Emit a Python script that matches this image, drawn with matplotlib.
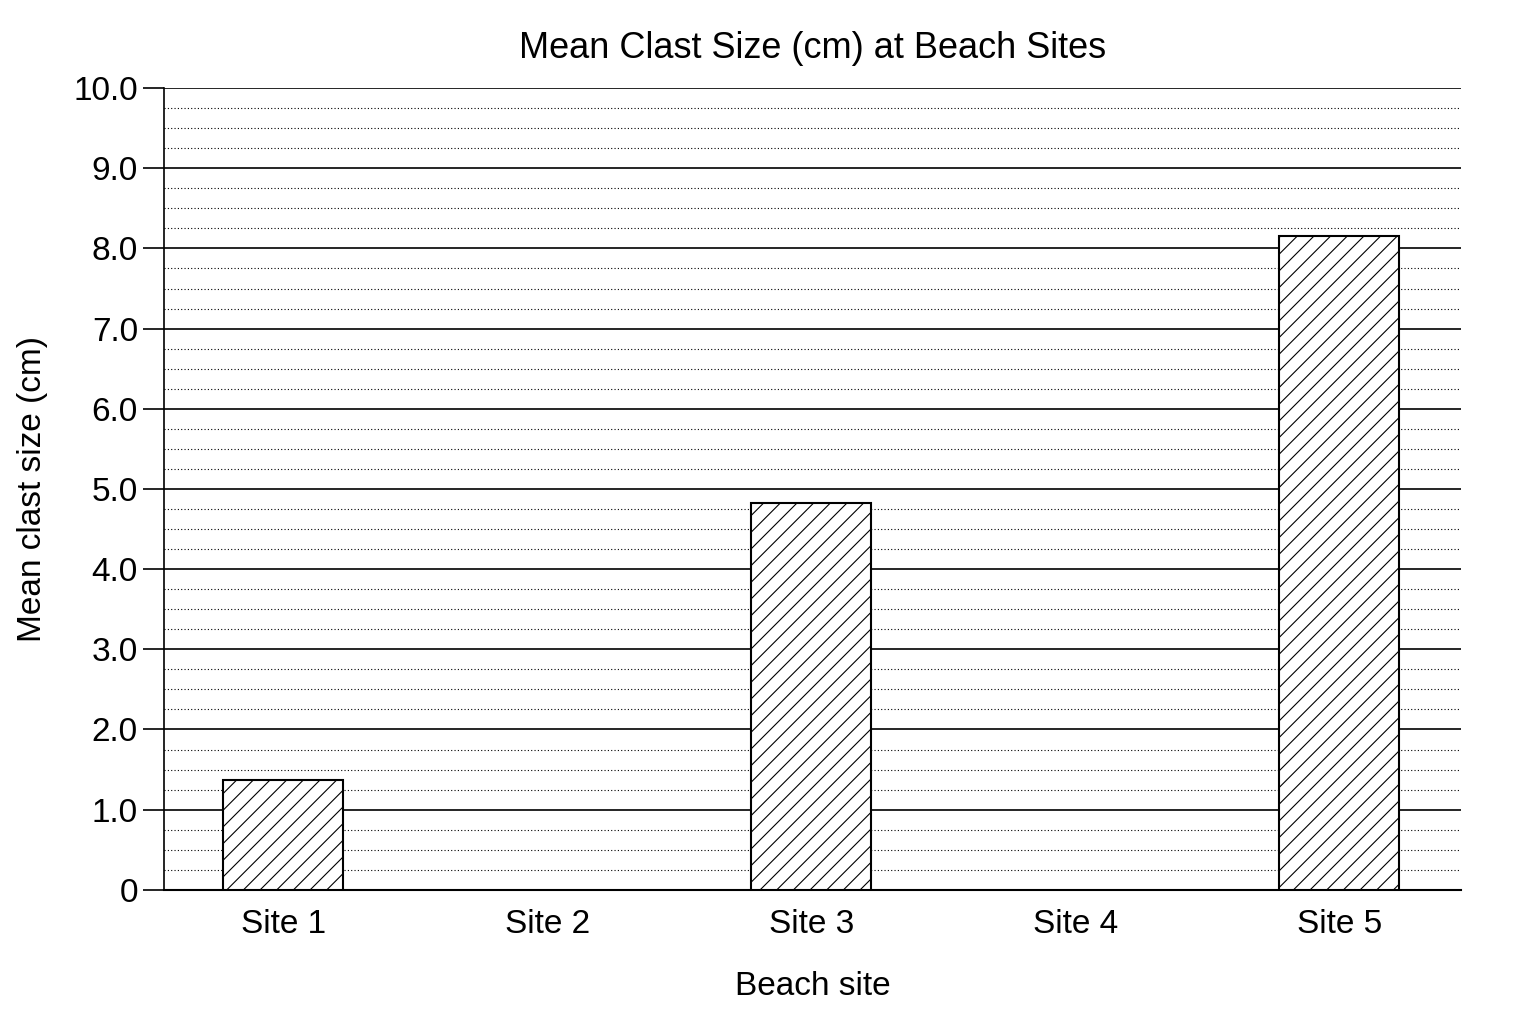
import matplotlib
matplotlib.use("Agg")
import matplotlib.pyplot as plt
import numpy as np

sites = ["Site 1", "Site 2", "Site 3", "Site 4", "Site 5"]
values = [1.37, 0.0, 4.82, 0.0, 8.15]
yticks = [0, 1, 2, 3, 4, 5, 6, 7, 8, 9, 10]
ytick_labels = ["0", "1.0", "2.0", "3.0", "4.0", "5.0", "6.0", "7.0", "8.0", "9.0", "10.0"]

plt.rcParams['font.family'] = ['Liberation Sans', 'DejaVu Sans']
plt.rcParams['hatch.linewidth'] = 0.8
fig = plt.figure(figsize=(15.36, 10.24), dpi=100)
ax = fig.add_axes([0.107, 0.131, 0.844, 0.783])
x = np.arange(len(sites))
for xi, v in zip(x, values):
    if v > 0:
        ax.bar(xi, v, width=0.455, facecolor='white', edgecolor='black', hatch='//', linewidth=1.5, zorder=3)
ax.set_xlim(-0.45, 4.46)
ax.set_ylim(0, 10)
ax.set_yticks(yticks)
ax.set_yticklabels(ytick_labels, fontsize=24)
ax.set_yticks(np.arange(0, 10.01, 0.25), minor=True)
ax.tick_params(axis='y', which='minor', length=0)
ax.tick_params(axis='y', which='major', length=15, width=1.2, pad=4)
ax.set_xticks(x)
ax.set_xticklabels(sites, fontsize=24)
ax.tick_params(axis='x', length=0, pad=14)
ax.grid(axis='y', which='major', color='black', linewidth=1.2, zorder=1)
ax.grid(axis='y', which='minor', color='black', linestyle=(0, (1, 2)), linewidth=0.8, zorder=1)
for s in ['top', 'right']:
    ax.spines[s].set_visible(False)
ax.spines['left'].set_linewidth(1.2)
ax.spines['bottom'].set_linewidth(1.5)
ax.set_axisbelow(True)
ax.set_title("Mean Clast Size (cm) at Beach Sites", fontsize=26, pad=22)
ax.set_xlabel("Beach site", fontsize=24, labelpad=22)
ax.set_ylabel("Mean clast size (cm)", fontsize=24, labelpad=18)
fig.savefig("out.png", dpi=100)
